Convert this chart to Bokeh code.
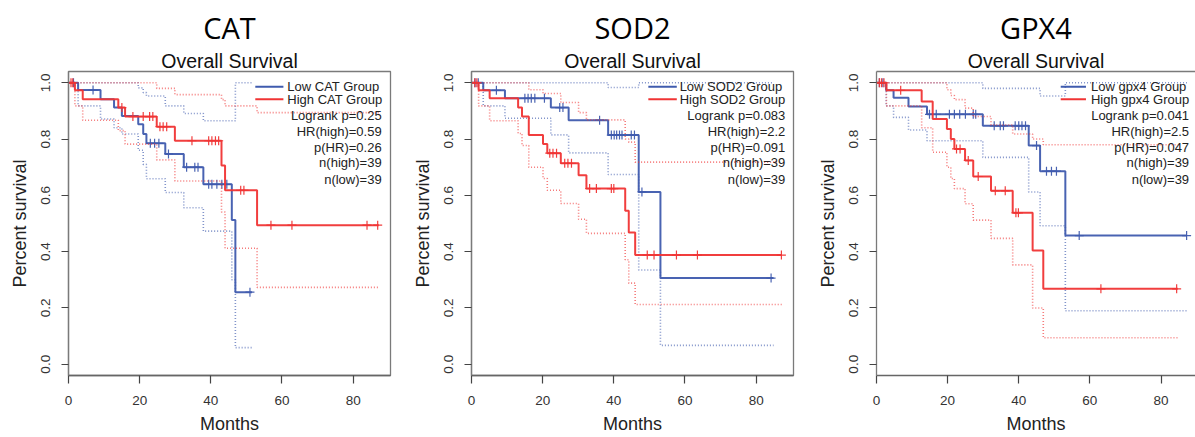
import numpy as np
from bokeh.plotting import figure
from bokeh.layouts import row
from bokeh.models import Range1d, FixedTicker, PrintfTickFormatter, Title, LinearAxis
from bokeh.core.properties import value
from bokeh.embed import file_html
from bokeh.resources import INLINE

# ---------------- data ----------------
genes = ["CAT", "SOD2", "GPX4"]
legend_low = ["Low CAT Group", "Low SOD2 Group", "Low gpx4 Group"]
legend_high = ["High CAT Group", "High SOD2 Group", "High gpx4 Group"]
logrank_p = ["0.25", "0.083", "0.041"]
hr_high = ["0.59", "2.2", "2.5"]
p_hr = ["0.26", "0.091", "0.047"]
n_high = [39, 39, 39]
n_low = [39, 39, 39]
x_ticks = [0, 20, 40, 60, 80]
y_ticks = [0.0, 0.2, 0.4, 0.6, 0.8, 1.0]

# CAT
cat_low_times = [2.7, 9.0, 12.8, 15.0, 19.6, 21.0, 21.9, 27.2, 32.4, 37.9, 45.9, 46.9]
cat_low_surv = [0.974, 0.941, 0.912, 0.882, 0.853, 0.818, 0.785, 0.747, 0.700, 0.639, 0.512, 0.256]
cat_low_end = 51.6
cat_low_cens = [1.4, 6.9, 23.0, 24.2, 25.4, 28.1, 33.2, 35.5, 36.4, 39.4, 40.3, 41.7, 43.1, 44.5, 51.0]
cat_low_up_t = [0, 19.6, 21.0, 21.9, 27.2, 32.4, 37.9, 46.9]
cat_low_up_v = [1.0, 0.982, 0.965, 0.953, 0.918, 0.891, 0.865, 1.0]
cat_low_lo_t = [0, 2.7, 9.0, 12.8, 15.0, 19.6, 21.0, 21.9, 27.2, 32.4, 37.9, 45.9, 46.9]
cat_low_lo_v = [1.0, 0.918, 0.871, 0.840, 0.818, 0.760, 0.710, 0.659, 0.610, 0.556, 0.473, 0.300, 0.059]

cat_high_times = [1.8, 4.0, 14.0, 15.9, 24.8, 29.9, 43.0, 44.0, 53.0]
cat_high_surv = [0.973, 0.941, 0.912, 0.880, 0.844, 0.794, 0.706, 0.618, 0.494]
cat_high_end = 87.2
cat_high_cens = [0.7, 1.2, 15.0, 18.1, 21.0, 22.8, 23.7, 25.7, 26.6, 27.6, 34.7, 39.4, 40.3,
                 41.3, 42.2, 48.4, 49.3, 56.9, 62.8, 83.9, 86.9]
cat_high_up_t = [0, 24.8, 29.9, 43.0, 44.0, 53.0]
cat_high_up_v = [1.0, 0.980, 0.958, 0.940, 0.918, 0.894]
cat_high_lo_t = [0, 1.8, 4.0, 14.0, 15.9, 24.8, 29.9, 43.0, 44.0, 53.0]
cat_high_lo_v = [1.0, 0.918, 0.867, 0.830, 0.782, 0.726, 0.651, 0.541, 0.412, 0.273]

# SOD2
sod2_low_times = [3.3, 9.4, 22.3, 27.3, 38.4, 47.0, 53.1]
sod2_low_surv = [0.973, 0.945, 0.912, 0.867, 0.814, 0.612, 0.306]
sod2_low_end = 84.9
sod2_low_cens = [1.0, 1.9, 7.0, 15.0, 15.9, 16.8, 17.8, 20.5, 24.8, 25.7, 36.0, 39.3, 40.1,
                 40.8, 41.6, 42.3, 44.9, 45.8, 47.9, 84.2]
sod2_low_up_t = [0, 38.4, 47.0]
sod2_low_up_v = [1.0, 0.983, 1.0]
sod2_low_lo_t = [0, 3.3, 9.4, 22.3, 27.3, 38.4, 47.0, 53.1]
sod2_low_lo_v = [1.0, 0.918, 0.874, 0.815, 0.751, 0.674, 0.335, 0.067]

sod2_high_times = [2.0, 5.1, 13.1, 14.2, 16.1, 20.1, 21.3, 25.1, 30.1, 32.3, 43.2, 44.2, 46.0]
sod2_high_surv = [0.973, 0.945, 0.912, 0.880, 0.814, 0.782, 0.750, 0.714, 0.671, 0.624, 0.545, 0.468, 0.388]
sod2_high_end = 87.2
sod2_high_cens = [0.9, 1.5, 22.0, 22.9, 23.9, 26.2, 27.1, 28.1, 33.2, 35.1, 39.3, 40.0,
                  49.4, 51.3, 57.6, 63.5, 87.1]
sod2_high_up_t = [0, 16.1, 20.1, 25.1, 30.1, 32.3, 43.2, 44.2, 46.0]
sod2_high_up_v = [1.0, 0.975, 0.962, 0.930, 0.894, 0.868, 0.800, 0.789, 0.718]
sod2_high_lo_t = [0, 2.0, 5.1, 13.1, 14.2, 16.1, 20.1, 21.3, 25.1, 30.1, 32.3, 43.2, 44.2, 46.0]
sod2_high_lo_v = [1.0, 0.918, 0.865, 0.820, 0.777, 0.700, 0.660, 0.618, 0.571, 0.515, 0.465, 0.371, 0.288, 0.212]

# GPX4
gpx4_low_times = [2.7, 4.8, 9.0, 14.2, 29.9, 42.8, 46.0, 53.1]
gpx4_low_surv = [0.973, 0.947, 0.916, 0.888, 0.847, 0.777, 0.686, 0.457]
gpx4_low_end = 87.3
gpx4_low_cens = [0.8, 1.8, 14.9, 16.8, 20.5, 21.9, 23.4, 25.0, 27.2, 27.9, 33.1, 34.8, 35.7,
                 39.0, 40.0, 40.9, 41.9, 45.0, 47.8, 49.2, 50.6, 57.0, 87.2]
gpx4_low_up_t = [0, 29.9, 46.0, 53.1]
gpx4_low_up_v = [1.0, 0.980, 0.953, 1.0]
gpx4_low_lo_t = [0, 2.7, 4.8, 9.0, 14.2, 29.9, 42.8, 46.0, 53.1]
gpx4_low_lo_v = [1.0, 0.918, 0.877, 0.832, 0.794, 0.735, 0.612, 0.492, 0.190]

gpx4_high_times = [2.8, 12.7, 15.8, 19.8, 20.9, 21.9, 24.9, 27.2, 32.2, 38.3, 43.9, 46.9]
gpx4_high_surv = [0.973, 0.933, 0.871, 0.836, 0.800, 0.765, 0.724, 0.667, 0.616, 0.538, 0.404, 0.268]
gpx4_high_end = 84.7
gpx4_high_cens = [0.8, 1.4, 2.1, 6.8, 22.5, 23.5, 25.8, 28.6, 33.4, 36.2, 39.2, 39.9, 63.1, 84.4]
gpx4_high_up_t = [0, 19.8, 20.9, 21.9, 24.9, 27.2, 32.2, 38.3, 43.9, 46.9]
gpx4_high_up_v = [1.0, 0.975, 0.955, 0.940, 0.910, 0.880, 0.850, 0.818, 0.800, 0.780]
gpx4_high_lo_t = [0, 2.8, 12.7, 15.8, 19.8, 20.9, 21.9, 24.9, 27.2, 32.2, 38.3, 43.9, 46.9]
gpx4_high_lo_v = [1.0, 0.918, 0.840, 0.753, 0.700, 0.660, 0.624, 0.570, 0.512, 0.447, 0.353, 0.200, 0.094]

groups = [
    dict(low=(cat_low_times, cat_low_surv, cat_low_end, cat_low_cens,
              cat_low_up_t, cat_low_up_v, cat_low_lo_t, cat_low_lo_v),
         high=(cat_high_times, cat_high_surv, cat_high_end, cat_high_cens,
               cat_high_up_t, cat_high_up_v, cat_high_lo_t, cat_high_lo_v)),
    dict(low=(sod2_low_times, sod2_low_surv, sod2_low_end, sod2_low_cens,
              sod2_low_up_t, sod2_low_up_v, sod2_low_lo_t, sod2_low_lo_v),
         high=(sod2_high_times, sod2_high_surv, sod2_high_end, sod2_high_cens,
               sod2_high_up_t, sod2_high_up_v, sod2_high_lo_t, sod2_high_lo_v)),
    dict(low=(gpx4_low_times, gpx4_low_surv, gpx4_low_end, gpx4_low_cens,
              gpx4_low_up_t, gpx4_low_up_v, gpx4_low_lo_t, gpx4_low_lo_v),
         high=(gpx4_high_times, gpx4_high_surv, gpx4_high_end, gpx4_high_cens,
               gpx4_high_up_t, gpx4_high_up_v, gpx4_high_lo_t, gpx4_high_lo_v)),
]

# ---------------- layout / style ----------------
BLUE = "#3F5BAE"
RED = "#F03434"
FIG_H = 436
MB_TOP, MB_BOT = 71, 60
fig_w = [400, 403, 392]
mb_left = [68, 71, 73]
mb_right = [10, 10, 0]
x_end = [90.5, 90.5, 89.7]
legend_line = [(52.5, 60.4), (49.7, 57.7), (51.8, 58.9)]
legend_text_x = [61.5, 58.5, 60.3]
stat_right_x = [88.0, 88.2, 87.9]
row_y = [0.986, 0.941, 0.882, 0.826, 0.771, 0.716, 0.658]
FONT = "Liberation Sans"


def step_xy(t, v, end):
    return list(t) + [end], list(v) + [v[-1]]


def level_at(times, surv, t):
    idx = np.searchsorted(np.asarray(times), np.asarray(t), side="right")
    levels = np.concatenate([[1.0], np.asarray(surv)])
    return levels[idx]


def draw_group(p, grp, color):
    times, surv, end, cens, up_t, up_v, lo_t, lo_v = grp
    for t, v in ((up_t, up_v), (lo_t, lo_v)):
        x, y = step_xy(t, v, end)
        p.step(x, y, mode="after", line_color=color, line_width=1.6,
               line_dash="1 2", line_alpha=0.65)
    x, y = step_xy([0.0] + list(times), [1.0] + list(surv), end)
    p.step(x, y, mode="after", line_color=color, line_width=2.0, line_alpha=0.95)
    p.scatter(cens, level_at(times, surv, cens), marker="cross", size=9,
              line_color=color, line_width=1.2, line_alpha=0.95)


figs = []
for i, gene in enumerate(genes):
    p = figure(width=fig_w[i], height=FIG_H, x_range=Range1d(0, x_end[i]),
               y_range=Range1d(-0.04, 1.04), output_backend="svg", toolbar_location=None,
               min_border_left=mb_left[i], min_border_right=mb_right[i],
               min_border_top=MB_TOP, min_border_bottom=MB_BOT)
    p.xgrid.visible = False
    p.ygrid.visible = False
    p.background_fill_color = "white"
    p.border_fill_color = "white"

    xax = p.below[0]
    yax = p.left[0]
    for ax in (xax, yax):
        ax.major_tick_in = 0
        ax.minor_tick_line_color = None
        ax.major_tick_line_color = "#444444"
        ax.major_tick_line_width = 1.2
        ax.major_label_text_font = FONT
        ax.major_label_text_font_size = "13.5px"
        ax.major_label_text_color = "#333333"
        ax.axis_label_text_font = FONT
        ax.axis_label_text_font_size = "18px"
        ax.axis_label_text_font_style = "normal"
        ax.axis_label_text_color = "#222222"
    xax.ticker = FixedTicker(ticks=x_ticks)
    yax.ticker = FixedTicker(ticks=y_ticks)
    yax.formatter = PrintfTickFormatter(format="%.1f")
    yax.major_label_orientation = "vertical"
    xax.major_tick_out = 8
    yax.major_tick_out = 7
    xax.major_label_standoff = 12
    yax.major_label_standoff = 11
    xax.axis_label_standoff = 6
    yax.axis_label_standoff = 9
    xax.axis_line_color = "#666666"
    xax.axis_line_width = 1.5
    yax.axis_line_color = "#7a7a7a"
    yax.axis_line_width = 1.3
    xax.axis_label = "Months"
    yax.axis_label = "Percent survival"

    if i < 2:
        p.outline_line_color = "#7a7a7a"
        p.outline_line_width = 1.3
    else:
        p.outline_line_color = None
        top = LinearAxis(ticker=FixedTicker(ticks=[]), major_label_text_font_size="0px",
                         major_tick_line_color=None, minor_tick_line_color=None,
                         axis_line_color="#7a7a7a", axis_line_width=1.3)
        p.add_layout(top, "above")

    draw_group(p, groups[i]["low"], BLUE)
    draw_group(p, groups[i]["high"], RED)

    # legend
    lx0, lx1 = legend_line[i]
    p.line([lx0, lx1], [row_y[0], row_y[0]], line_color=BLUE, line_width=2)
    p.line([lx0, lx1], [row_y[1], row_y[1]], line_color=RED, line_width=2)
    p.text([legend_text_x[i]] * 2, row_y[:2], text=[legend_low[i], legend_high[i]],
           text_font=value(FONT), text_font_size="13px", text_color="#222222",
           text_align="left", text_baseline="middle")
    stats = [f"Logrank p={logrank_p[i]}", f"HR(high)={hr_high[i]}", f"p(HR)={p_hr[i]}",
             f"n(high)={n_high[i]}", f"n(low)={n_low[i]}"]
    p.text([stat_right_x[i]] * len(stats), row_y[2:], text=stats,
           text_font=value(FONT), text_font_size="13px", text_color="#222222",
           text_align="right", text_baseline="middle")

    # titles
    p.add_layout(Title(text="Overall Survival", align="center", standoff=0,
                       text_font=FONT, text_font_size="19.5px", text_font_style="normal",
                       text_color="#111111"), "above")
    p.add_layout(Title(text=gene, align="center", offset=-25, standoff=0,
                       vertical_align="middle",
                       text_font="Open Sans", text_font_size="29px", text_font_style="normal",
                       text_color="#000000"), "above")
    figs.append(p)

layout = row(*figs, spacing=0)
open("out.html", "w").write(file_html(layout, INLINE))
